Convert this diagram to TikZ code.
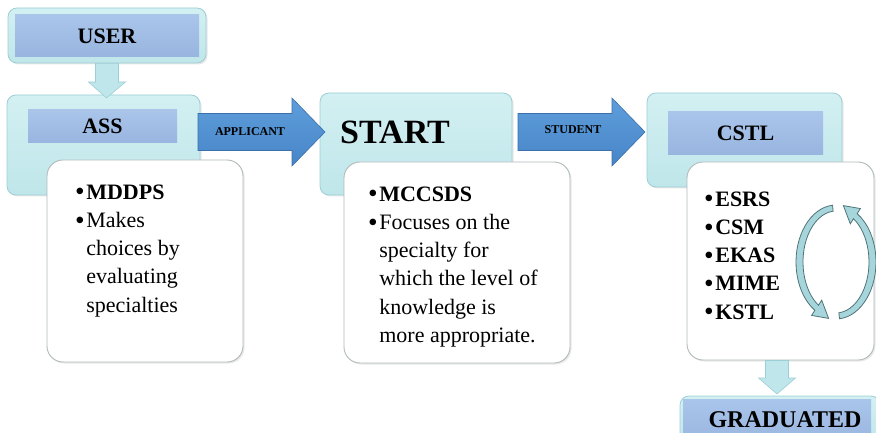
\documentclass[tikz,border=0pt]{standalone}
\usepackage{fontspec}
\usepackage{graphicx}
\setmainfont{Liberation Serif}
\usetikzlibrary{calc,shadows}

\definecolor{framecyan}{HTML}{BFE6EA}
\definecolor{framecyanlight}{HTML}{D3F0F2}
\definecolor{frameedge}{HTML}{9CCFD5}
\definecolor{titleblue}{HTML}{AAC5EA}
\definecolor{titlebluedark}{HTML}{98B5E0}
\definecolor{flowblue}{HTML}{4785C8}
\definecolor{flowbluelight}{HTML}{5F9EDB}
\definecolor{flowedge}{HTML}{3A70AC}
\definecolor{listedge}{HTML}{B2BABA}
\definecolor{cyclefill}{HTML}{A6D6DC}
\definecolor{cycleedge}{HTML}{4F7478}

% list bullet, a little larger than the font's own
\newcommand\blt{\raisebox{-0.08em}{\scalebox{1.25}{\textbullet}}}

% horizontal block arrow: style, tail, tip
\newcommand\rblockarrow[3]{%
  \path[#1] let \p1=(#2), \p2=(#3) in
    (\x1,\y1+18.5pt) -- (\x2-33pt,\y1+18.5pt) -- (\x2-33pt,\y1+34pt)
    -- (\x2,\y2) -- (\x2-33pt,\y1-34pt) -- (\x2-33pt,\y1-18.5pt)
    -- (\x1,\y1-18.5pt) -- cycle;}
% vertical block arrow pointing down: style, tail, tip
\newcommand\dblockarrow[3]{%
  \path[#1] let \p1=(#2), \p2=(#3) in
    (\x1-11.5pt,\y1) -- (\x1-11.5pt,\y2+16pt) -- (\x1-18.5pt,\y2+16pt)
    -- (\x2,\y2) -- (\x1+18.5pt,\y2+16pt) -- (\x1+11.5pt,\y2+16pt)
    -- (\x1+11.5pt,\y1) -- cycle;}
% one half of the circular cycle symbol
\newcommand\cyclehalf{%
  \path[cyclearrow] (95:40pt and 57pt)
    arc[start angle=95, end angle=238, x radius=40pt, y radius=57pt]
    -- (238:46pt and 63pt) -- (-7.4pt,-56.4pt) -- (238:27pt and 45pt)
    -- (238:33pt and 51pt)
    arc[start angle=238, end angle=95, x radius=33pt, y radius=51pt]
    -- cycle;}

\tikzset{
  softshadow/.style={drop shadow={opacity=0.18, shadow xshift=1.5pt, shadow yshift=-1.5pt}},
  frame/.style={rounded corners=9pt, top color=framecyanlight, bottom color=framecyan,
    draw=frameedge, line width=0.8pt, inner sep=0pt, softshadow},
  titlebar/.style={top color=titleblue, bottom color=titlebluedark, draw=none, inner sep=0pt},
  listbox/.style={rounded corners=16pt, fill=white, draw=listedge, line width=0.9pt,
    inner sep=0pt, softshadow},
  titletext/.style={font=\bfseries\fontsize{22}{26}\selectfont},
  smalltext/.style={font=\bfseries\fontsize{12}{14}\selectfont},
  listtext/.style={font=\fontsize{22}{28.3}\selectfont, anchor=north west, inner sep=0pt},
  flowarrow/.style={top color=flowbluelight, bottom color=flowblue, draw=flowedge, line width=0.6pt},
  downarrow/.style={fill=framecyan, draw=frameedge, line width=0.6pt},
  cyclearrow/.style={fill=cyclefill, draw=cycleedge, line width=0.8pt},
}

\begin{document}
\begin{tikzpicture}[x=1pt, y=-1pt]
  \useasboundingbox (0,0) rectangle (876,433);
  \clip (0,0) rectangle (876,433);
  \fill[white] (0,0) rectangle (876,433);

  % USER
  \node[frame, minimum width=198pt, minimum height=55pt] (userframe) at (107,35.5) {};
  \node[titlebar, minimum width=184pt, minimum height=42pt] (userbar) at (107,36) {};
  \node[titletext] (user) at (userbar) {USER};

  % ASS
  \node[frame, minimum width=193pt, minimum height=100pt] (assframe) at (103.5,145) {};
  \node[titlebar, minimum width=149pt, minimum height=33pt] (assbar) at (102.5,126.5) {};
  \node[titletext] (ass) at (assbar) {ASS};
  \node[listbox, minimum width=196pt, minimum height=202pt] (asslist) at (145,261) {};
  \node[listtext] (asstext) at (75,179) {%
    \begin{tabular}{@{}l@{\hspace{1.5pt}}l@{}}
      \blt & \textbf{MDDPS}\\
      \blt & Makes\\
           & choices by\\
           & evaluating\\
           & specialties
    \end{tabular}};

  % START
  \node[frame, minimum width=192pt, minimum height=102pt] (startframe) at (416,144) {};
  \node[font=\bfseries\fontsize{34}{40}\selectfont] (start) at (395,132) {START};
  \node[listbox, minimum width=226pt, minimum height=201pt] (startlist) at (457,262.5) {};
  \node[listtext] (starttext) at (368,181) {%
    \begin{tabular}{@{}l@{\hspace{1.5pt}}l@{}}
      \blt & \textbf{MCCSDS}\\
      \blt & Focuses on the\\
           & specialty for\\
           & which the level of\\
           & knowledge is\\
           & more appropriate.
    \end{tabular}};

  % CSTL
  \node[frame, minimum width=195pt, minimum height=94pt] (cstlframe) at (744.5,140) {};
  \node[titlebar, minimum width=155pt, minimum height=43pt] (cstlbar) at (745.5,133.5) {};
  \node[titletext] (cstl) at (cstlbar) {CSTL};
  \node[listbox, minimum width=187pt, minimum height=198pt] (cstllist) at (780.5,261) {};
  \node[listtext] (cstltext) at (704,186) {%
    \begin{tabular}{@{}l@{\hspace{1.5pt}}l@{}}
      \blt & \textbf{ESRS}\\
      \blt & \textbf{CSM}\\
      \blt & \textbf{EKAS}\\
      \blt & \textbf{MIME}\\
      \blt & \textbf{KSTL}
    \end{tabular}};

  % cycle symbol
  \begin{scope}[shift={(836,262)}]
    \cyclehalf
  \end{scope}
  \begin{scope}[shift={(836,262)}, rotate=180]
    \cyclehalf
  \end{scope}

  % GRADUATED
  \node[frame, minimum width=200pt, minimum height=49pt] (gradframe) at (780,420.5) {};
  \node[titlebar, minimum width=188pt, minimum height=46pt] (gradbar) at (777,422) {};
  \node[font=\bfseries\fontsize{24}{28}\selectfont] (graduated) at (785,420) {GRADUATED};

  % connectors
  \coordinate (userdown) at (userframe.south);
  \coordinate (asstop) at (106.5,98);
  \dblockarrow{downarrow}{userdown}{asstop}

  \coordinate (apptail) at (198,132);
  \coordinate (apptip) at (325,132);
  \rblockarrow{flowarrow}{apptail}{apptip}
  \node[smalltext] (applicant) at (250,132) {APPLICANT};

  \coordinate (studtail) at (518,132);
  \coordinate (studtip) at (645,132);
  \rblockarrow{flowarrow}{studtail}{studtip}
  \node[smalltext] (student) at (573,130) {STUDENT};

  \coordinate (cstldown) at ([xshift=-3.5pt]cstllist.south);
  \coordinate (gradtop) at (777,394);
  \dblockarrow{downarrow}{cstldown}{gradtop}
\end{tikzpicture}
\end{document}
